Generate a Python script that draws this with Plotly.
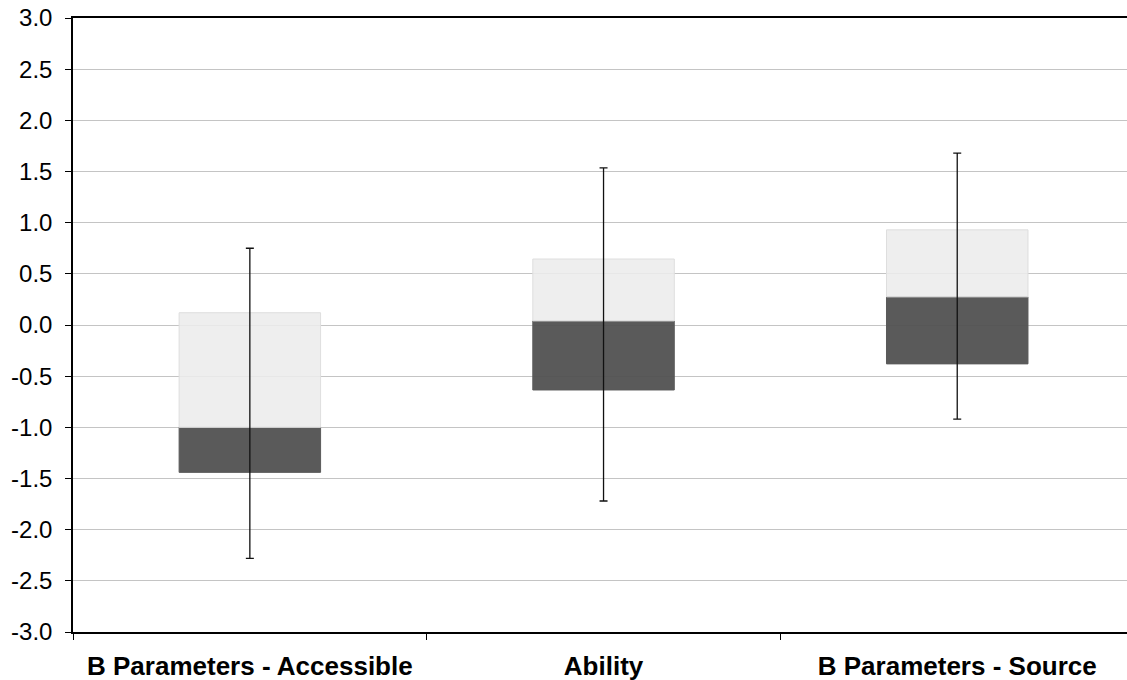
import plotly.graph_objects as go

categories = ["B Parameters - Accessible", "Ability", "B Parameters - Source"]
whisker_low = [-2.28, -1.72, -0.92]
box_low = [-1.44, -0.635, -0.38]
box_mid = [-1.0, 0.04, 0.275]
box_high = [0.12, 0.645, 0.93]
whisker_high = [0.75, 1.535, 1.68]
y_ticks = [-3.0, -2.5, -2.0, -1.5, -1.0, -0.5, 0.0, 0.5, 1.0, 1.5, 2.0, 2.5, 3.0]

dark_heights = [m - l for m, l in zip(box_mid, box_low)]
light_heights = [h - m for h, m in zip(box_high, box_mid)]

fig = go.Figure()
fig.add_trace(go.Bar(
    x=categories, y=dark_heights, base=box_low, width=0.4,
    marker=dict(color="rgba(80,80,80,0.94)", line=dict(color="#5a5a5a", width=1)),
    showlegend=False, hoverinfo="skip"))
fig.add_trace(go.Bar(
    x=categories, y=light_heights, base=box_mid, width=0.4,
    marker=dict(color="rgba(236,236,236,0.88)", line=dict(color="#dedede", width=1)),
    showlegend=False, hoverinfo="skip"))
fig.add_trace(go.Scatter(
    x=categories, y=box_mid, mode="markers",
    marker=dict(size=1, color="rgba(0,0,0,0)"),
    error_y=dict(type="data", symmetric=False,
                 array=[h - m for h, m in zip(whisker_high, box_mid)],
                 arrayminus=[m - l for m, l in zip(box_mid, whisker_low)],
                 color="#111111", thickness=1.3, width=4),
    showlegend=False, hoverinfo="skip"))

fig.update_layout(
    width=1127, height=680,
    margin=dict(l=73, r=0, t=18, b=48, autoexpand=False),
    paper_bgcolor="white", plot_bgcolor="white",
    barmode="overlay",
    font=dict(family="Liberation Sans, Arial, sans-serif", color="black"),
    xaxis=dict(
        type="category", range=[-0.5, 2.48], automargin=False,
        tickson="boundaries", ticks="outside", ticklen=6, tickcolor="black",
        showline=True, linecolor="black", linewidth=1.5, mirror=True,
        showgrid=False,
        tickfont=dict(size=26, family="Liberation Sans, Arial, sans-serif", weight="bold"),
        ticklabelstandoff=10, ticklabeloverflow="allow",
    ),
    yaxis=dict(
        range=[-3.0, 3.0], tickvals=y_ticks, automargin=False,
        ticktext=[f"{v:.1f}" for v in y_ticks],
        ticks="outside", ticklen=6, tickcolor="black",
        showline=True, linecolor="black", linewidth=1.5,
        showgrid=True, gridcolor="#c4c4c4", gridwidth=1.3,
        zeroline=False,
        tickfont=dict(size=24),
        ticklabelstandoff=8, ticklabeloverflow="allow",
    ),
)

fig.write_html(
    "out.html",
    config={"displayModeBar": False},
    post_script="document.body.style.margin='0';document.body.style.overflow='hidden';",
)
